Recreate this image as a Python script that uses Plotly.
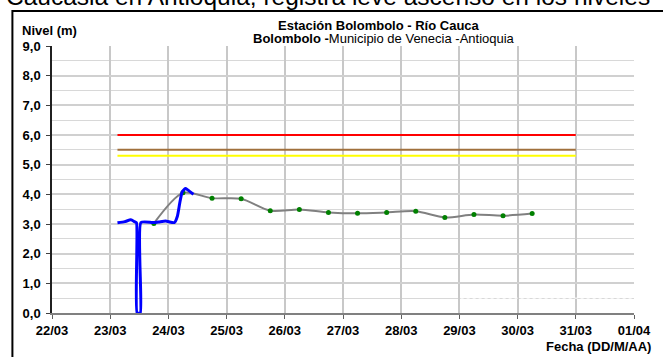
import plotly.graph_objects as go

# serie de nivel continuo (sensor)
blue_t = ["2025-03-23 03:00", "2025-03-23 06:00", "2025-03-23 08:30", "2025-03-23 10:00",
          "2025-03-23 10:50", "2025-03-23 11:05", "2025-03-23 12:25", "2025-03-23 12:40",
          "2025-03-23 17:30", "2025-03-23 20:00", "2025-03-23 22:50", "2025-03-24 02:30",
          "2025-03-24 03:40", "2025-03-24 04:40", "2025-03-24 05:40", "2025-03-24 07:00",
          "2025-03-24 08:00", "2025-03-24 10:20"]
blue_y = [3.04, 3.08, 3.14, 3.08, 3.04, 0.0, 0.0, 3.05,
          3.05, 3.07, 3.10, 3.05, 3.25, 3.70, 4.08, 4.20, 4.15, 4.00]

# lecturas de mira (06:00 y 18:00)
mira_t = ["2025-03-23 18:00", "2025-03-24 06:00", "2025-03-24 18:00", "2025-03-25 06:00",
          "2025-03-25 18:00", "2025-03-26 06:00", "2025-03-26 18:00", "2025-03-27 06:00",
          "2025-03-27 18:00", "2025-03-28 06:00", "2025-03-28 18:00", "2025-03-29 06:00",
          "2025-03-29 18:00", "2025-03-30 06:00"]
mira_y = [3.02, 4.05, 3.87, 3.85, 3.45, 3.49, 3.39, 3.36, 3.39, 3.43, 3.22, 3.32, 3.28, 3.35]

# umbrales
umbral_t = ["2025-03-23 03:00", "2025-03-31 00:00"]
rojo = [6.0, 6.0]
naranja = [5.5, 5.5]
amarillo = [5.3, 5.3]

# marca blanca punteada sobre la rejilla de 0,5
marca_t = ["2025-03-29 00:30", "2025-04-01 00:00"]
marca_y = [0.5, 0.5]

W, H = 663, 357
L, R, T, B = 52, 23, 46, 44
pw, ph = W - L - R, H - T - B


def px(x):
    return (x - L) / pw


def py(y):
    return (H - B - y) / ph


fig = go.Figure()

fig.add_trace(go.Scatter(x=marca_t, y=marca_y, mode="lines", line=dict(color="white", width=1, dash="dot")))
fig.add_trace(go.Scatter(x=umbral_t, y=rojo, mode="lines", line=dict(color="#ff0000", width=2)))
fig.add_trace(go.Scatter(x=umbral_t, y=naranja, mode="lines", line=dict(color="#a0703c", width=2)))
fig.add_trace(go.Scatter(x=umbral_t, y=amarillo, mode="lines", line=dict(color="#ffff00", width=2)))
fig.add_trace(go.Scatter(x=mira_t, y=mira_y, mode="lines+markers",
                         line=dict(color="#808080", width=2, shape="spline", smoothing=0.8),
                         marker=dict(color="#008000", size=5)))
fig.add_trace(go.Scatter(x=blue_t, y=blue_y, mode="lines",
                         line=dict(color="#0000ff", width=3, shape="spline", smoothing=0.5)))

fnt = "Liberation Sans, Arial, sans-serif"

fig.update_layout(
    width=W, height=H,
    margin=dict(l=L, r=R, t=T, b=B),
    plot_bgcolor="white", paper_bgcolor="white",
    showlegend=False,
    separators=",.",
    font=dict(family=fnt, size=13, color="black"),
    xaxis=dict(
        type="date", range=["2025-03-22", "2025-04-01"], dtick=86400000,
        tickformat="<b>%d/%m</b>", showgrid=True, gridcolor="#c8c8c8", gridwidth=1.5,
        showline=True, linecolor="#808080", linewidth=2,
        ticks="outside", ticklen=4, tickcolor="#606060",
        tickfont=dict(size=13, family=fnt), zeroline=False,
    ),
    yaxis=dict(
        range=[0, 9], dtick=1, tickformat=".1f", showgrid=True, gridcolor="#d0d0d0", gridwidth=1.5,
        minor=dict(dtick=0.5, showgrid=True, gridcolor="#d8d8d8", gridwidth=1),
        showline=True, linecolor="#202020", linewidth=1.5,
        ticks="outside", ticklen=4, tickcolor="#404040", ticklabelstandoff=3,
        tickprefix="<b>", ticksuffix="</b>",
        tickfont=dict(size=13, family=fnt), zeroline=False,
    ),
)

fig.add_shape(type="rect", xref="paper", yref="paper",
              x0=px(12), x1=px(720), y0=py(420), y1=py(11),
              line=dict(color="black", width=2), layer="above")

fig.add_annotation(text="Caucasia en Antioquia, registra leve ascenso en los niveles",
                   xref="paper", yref="paper", x=px(4), y=py(12), xanchor="left", yanchor="bottom",
                   showarrow=False, font=dict(size=24.5, family=fnt, color="black"))
fig.add_annotation(text="<b>Nivel (m)</b>", xref="paper", yref="paper", x=px(20), y=py(30),
                   xanchor="left", yanchor="middle", showarrow=False, font=dict(size=13))
fig.add_annotation(text="<b>Estación Bolombolo - Río Cauca</b>", xref="paper", yref="paper",
                   x=px(382), y=py(25), xanchor="center", yanchor="middle", showarrow=False,
                   font=dict(size=13))
fig.add_annotation(text="<b>Bolombolo -</b>Municipio de Venecia -Antioquia", xref="paper", yref="paper",
                   x=px(387), y=py(39), xanchor="center", yanchor="middle", showarrow=False,
                   font=dict(size=13))
fig.add_annotation(text="<b>Fecha (DD/M/AA)</b>", xref="paper", yref="paper", x=px(659), y=py(346),
                   xanchor="right", yanchor="middle", showarrow=False, font=dict(size=13))

# la página sin el margen por defecto del body, sin barra de herramientas
fig.write_html("out.html", config={"displayModeBar": False},
               post_script="document.body.style.margin='0';")
